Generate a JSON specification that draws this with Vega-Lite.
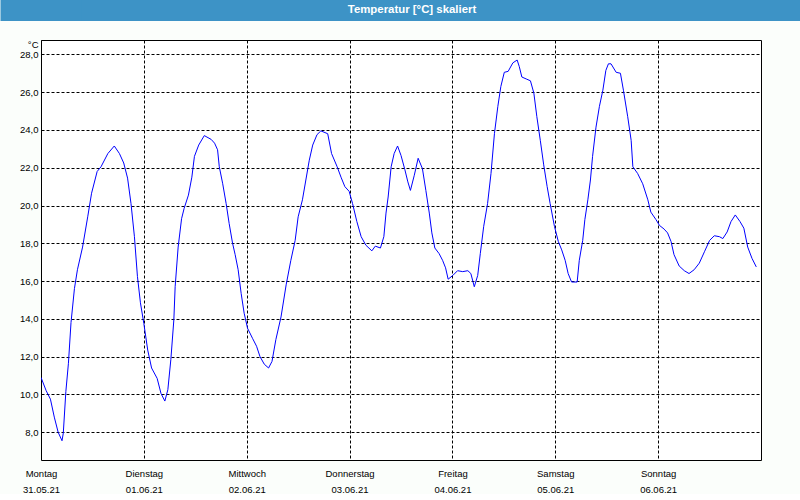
{
  "$schema": "https://vega.github.io/schema/vega-lite/v6.json",
  "background": "#FBFEFB",
  "padding": 0,
  "spacing": 17,
  "columns": 1,
  "config": {
    "font": "Liberation Sans",
    "view": {"stroke": "#000000", "strokeWidth": 1, "fill": "#FFFFFF"}
  },
  "concat": [
    {
      "width": 760,
      "height": 21,
      "view": {"fill": "#3D93C6", "stroke": null},
      "data": {"values": [{"label": "Temperatur [°C] skaliert"}]},
      "mark": {"type": "text", "color": "#FFFFFF", "fontWeight": "bold", "fontSize": 11.4, "font": "Liberation Sans", "dx": -9, "dy": -1},
      "encoding": {
        "text": {"field": "label", "type": "nominal"},
        "y": {
          "field": "label",
          "type": "nominal",
          "axis": {"title": null, "labels": false, "ticks": false, "grid": false, "domain": true, "domainColor": "#3D93C6", "domainWidth": 81, "domainOpacity": 1, "translate": 0}
        }
      }
    },
    {
      "width": 720,
      "height": 420,
      "data": {"values": [
        {"t":"2021-05-31T00:00","v":10.9},{"t":"2021-05-31T01:12","v":10.2},{"t":"2021-05-31T02:12","v":9.75},{"t":"2021-05-31T03:06","v":8.8},{"t":"2021-05-31T04:00","v":8.0},{"t":"2021-05-31T04:54","v":7.55},{"t":"2021-05-31T05:12","v":7.95},{"t":"2021-05-31T05:48","v":10.15},{"t":"2021-05-31T06:24","v":11.65},{"t":"2021-05-31T07:00","v":13.8},{"t":"2021-05-31T07:48","v":15.6},{"t":"2021-05-31T08:30","v":16.6},{"t":"2021-05-31T09:42","v":17.8},{"t":"2021-05-31T10:54","v":19.4},{"t":"2021-05-31T11:48","v":20.65},{"t":"2021-05-31T13:06","v":21.8},{"t":"2021-05-31T14:00","v":22.05},{"t":"2021-05-31T15:36","v":22.75},{"t":"2021-05-31T17:06","v":23.15},{"t":"2021-05-31T18:18","v":22.75},{"t":"2021-05-31T19:18","v":22.25},{"t":"2021-05-31T20:12","v":21.45},{"t":"2021-05-31T21:00","v":20.1},{"t":"2021-05-31T21:48","v":18.35},{"t":"2021-05-31T22:30","v":16.25},{"t":"2021-05-31T23:12","v":14.85},
        {"t":"2021-06-01T00:00","v":13.75},{"t":"2021-06-01T00:54","v":12.35},{"t":"2021-06-01T01:48","v":11.4},{"t":"2021-06-01T03:06","v":10.85},{"t":"2021-06-01T04:00","v":10.05},{"t":"2021-06-01T04:54","v":9.65},{"t":"2021-06-01T05:36","v":10.25},{"t":"2021-06-01T06:18","v":11.85},{"t":"2021-06-01T07:00","v":13.95},{"t":"2021-06-01T07:18","v":15.7},{"t":"2021-06-01T08:00","v":17.8},{"t":"2021-06-01T08:48","v":19.3},{"t":"2021-06-01T09:24","v":19.85},{"t":"2021-06-01T10:24","v":20.55},{"t":"2021-06-01T11:12","v":21.5},{"t":"2021-06-01T11:48","v":22.6},{"t":"2021-06-01T12:48","v":23.2},{"t":"2021-06-01T14:06","v":23.7},{"t":"2021-06-01T15:42","v":23.5},{"t":"2021-06-01T16:30","v":23.3},{"t":"2021-06-01T17:12","v":22.95},{"t":"2021-06-01T17:36","v":22.05},{"t":"2021-06-01T18:24","v":21.15},{"t":"2021-06-01T19:12","v":20.1},{"t":"2021-06-01T19:54","v":19.05},{"t":"2021-06-01T20:42","v":18.0},{"t":"2021-06-01T21:18","v":17.4},{"t":"2021-06-01T22:00","v":16.6},{"t":"2021-06-01T22:42","v":15.35},{"t":"2021-06-01T23:24","v":14.3},
        {"t":"2021-06-02T00:12","v":13.5},{"t":"2021-06-02T01:24","v":12.95},{"t":"2021-06-02T02:18","v":12.55},{"t":"2021-06-02T03:06","v":12.0},{"t":"2021-06-02T04:06","v":11.6},{"t":"2021-06-02T05:06","v":11.4},{"t":"2021-06-02T05:54","v":11.75},{"t":"2021-06-02T06:48","v":12.9},{"t":"2021-06-02T08:00","v":14.1},{"t":"2021-06-02T09:12","v":15.8},{"t":"2021-06-02T10:18","v":17.1},{"t":"2021-06-02T11:18","v":18.15},{"t":"2021-06-02T12:00","v":19.4},{"t":"2021-06-02T13:00","v":20.3},{"t":"2021-06-02T13:48","v":21.35},{"t":"2021-06-02T14:36","v":22.4},{"t":"2021-06-02T15:24","v":23.2},{"t":"2021-06-02T16:24","v":23.75},{"t":"2021-06-02T17:18","v":23.95},{"t":"2021-06-02T18:54","v":23.8},{"t":"2021-06-02T19:48","v":22.75},{"t":"2021-06-02T21:06","v":22.05},{"t":"2021-06-02T22:00","v":21.5},{"t":"2021-06-02T22:54","v":21.0},{"t":"2021-06-02T23:54","v":20.75},
        {"t":"2021-06-03T00:42","v":20.1},{"t":"2021-06-03T01:42","v":19.15},{"t":"2021-06-03T02:42","v":18.35},{"t":"2021-06-03T03:48","v":17.9},{"t":"2021-06-03T05:12","v":17.6},{"t":"2021-06-03T06:00","v":17.85},{"t":"2021-06-03T07:12","v":17.75},{"t":"2021-06-03T08:00","v":18.35},{"t":"2021-06-03T08:30","v":19.6},{"t":"2021-06-03T09:00","v":20.45},{"t":"2021-06-03T09:42","v":22.05},{"t":"2021-06-03T10:24","v":22.75},{"t":"2021-06-03T11:12","v":23.15},{"t":"2021-06-03T12:00","v":22.65},{"t":"2021-06-03T12:54","v":21.9},{"t":"2021-06-03T13:36","v":21.25},{"t":"2021-06-03T14:12","v":20.8},{"t":"2021-06-03T15:06","v":21.6},{"t":"2021-06-03T16:00","v":22.5},{"t":"2021-06-03T17:00","v":21.95},{"t":"2021-06-03T17:48","v":20.8},{"t":"2021-06-03T18:36","v":19.6},{"t":"2021-06-03T19:12","v":18.55},{"t":"2021-06-03T19:54","v":17.75},{"t":"2021-06-03T20:54","v":17.45},{"t":"2021-06-03T21:42","v":17.1},{"t":"2021-06-03T22:24","v":16.7},{"t":"2021-06-03T23:00","v":16.1},
        {"t":"2021-06-04T00:06","v":16.3},{"t":"2021-06-04T01:12","v":16.55},{"t":"2021-06-04T02:24","v":16.5},{"t":"2021-06-04T03:36","v":16.55},{"t":"2021-06-04T04:18","v":16.4},{"t":"2021-06-04T05:06","v":15.7},{"t":"2021-06-04T05:54","v":16.3},{"t":"2021-06-04T06:30","v":17.45},{"t":"2021-06-04T07:18","v":18.9},{"t":"2021-06-04T08:12","v":20.1},{"t":"2021-06-04T09:00","v":21.7},{"t":"2021-06-04T09:48","v":23.8},{"t":"2021-06-04T10:36","v":25.25},{"t":"2021-06-04T11:18","v":26.3},{"t":"2021-06-04T12:06","v":27.05},{"t":"2021-06-04T13:00","v":27.1},{"t":"2021-06-04T14:06","v":27.55},{"t":"2021-06-04T15:06","v":27.7},{"t":"2021-06-04T15:36","v":27.35},{"t":"2021-06-04T16:12","v":26.8},{"t":"2021-06-04T17:12","v":26.7},{"t":"2021-06-04T18:12","v":26.6},{"t":"2021-06-04T19:00","v":25.95},{"t":"2021-06-04T19:42","v":24.7},{"t":"2021-06-04T20:30","v":23.45},{"t":"2021-06-04T21:18","v":22.15},{"t":"2021-06-04T22:06","v":21.0},{"t":"2021-06-04T22:48","v":20.1},{"t":"2021-06-04T23:48","v":18.9},
        {"t":"2021-06-05T00:42","v":18.1},{"t":"2021-06-05T01:30","v":17.65},{"t":"2021-06-05T02:18","v":17.1},{"t":"2021-06-05T03:00","v":16.4},{"t":"2021-06-05T03:48","v":15.95},{"t":"2021-06-05T05:06","v":15.95},{"t":"2021-06-05T05:36","v":17.1},{"t":"2021-06-05T06:24","v":18.15},{"t":"2021-06-05T06:54","v":19.25},{"t":"2021-06-05T07:36","v":20.3},{"t":"2021-06-05T08:12","v":21.35},{"t":"2021-06-05T08:42","v":22.6},{"t":"2021-06-05T09:30","v":24.15},{"t":"2021-06-05T10:18","v":25.25},{"t":"2021-06-05T11:06","v":26.1},{"t":"2021-06-05T11:48","v":27.15},{"t":"2021-06-05T12:24","v":27.5},{"t":"2021-06-05T13:00","v":27.5},{"t":"2021-06-05T14:12","v":27.05},{"t":"2021-06-05T15:12","v":27.0},{"t":"2021-06-05T15:54","v":26.1},{"t":"2021-06-05T16:54","v":24.7},{"t":"2021-06-05T17:42","v":23.45},{"t":"2021-06-05T18:06","v":22.05},{"t":"2021-06-05T19:12","v":21.7},{"t":"2021-06-05T20:24","v":21.15},{"t":"2021-06-05T21:36","v":20.3},{"t":"2021-06-05T22:18","v":19.65},{"t":"2021-06-05T23:30","v":19.25},
        {"t":"2021-06-06T00:18","v":18.95},{"t":"2021-06-06T01:24","v":18.75},{"t":"2021-06-06T02:12","v":18.55},{"t":"2021-06-06T03:00","v":18.1},{"t":"2021-06-06T03:42","v":17.4},{"t":"2021-06-06T04:54","v":16.8},{"t":"2021-06-06T06:06","v":16.55},{"t":"2021-06-06T07:12","v":16.4},{"t":"2021-06-06T08:24","v":16.6},{"t":"2021-06-06T09:36","v":16.95},{"t":"2021-06-06T10:48","v":17.55},{"t":"2021-06-06T12:00","v":18.15},{"t":"2021-06-06T13:06","v":18.4},{"t":"2021-06-06T14:18","v":18.35},{"t":"2021-06-06T15:06","v":18.25},{"t":"2021-06-06T16:06","v":18.6},{"t":"2021-06-06T17:00","v":19.15},{"t":"2021-06-06T18:00","v":19.5},{"t":"2021-06-06T19:06","v":19.15},{"t":"2021-06-06T20:00","v":18.8},{"t":"2021-06-06T20:54","v":17.8},{"t":"2021-06-06T21:54","v":17.2},{"t":"2021-06-06T22:54","v":16.75}
      ]},
      "mark": {"type": "line", "color": "#0000FF", "strokeWidth": 1, "clip": true},
      "encoding": {
        "x": {
          "field": "t",
          "type": "temporal",
          "scale": {"domain": [{"year": 2021, "month": 5, "date": 31}, {"year": 2021, "month": 6, "date": 7}], "nice": false},
          "axis": {
            "values": [
              {"year": 2021, "month": 5, "date": 31},
              {"year": 2021, "month": 6, "date": 1},
              {"year": 2021, "month": 6, "date": 2},
              {"year": 2021, "month": 6, "date": 3},
              {"year": 2021, "month": 6, "date": 4},
              {"year": 2021, "month": 6, "date": 5},
              {"year": 2021, "month": 6, "date": 6}
            ],
            "labelExpr": "[['Sonntag','Montag','Dienstag','Mittwoch','Donnerstag','Freitag','Samstag'][day(datum.value)], timeFormat(datum.value, '%d.%m.%y')]",
            "title": null,
            "domain": false,
            "ticks": false,
            "grid": true,
            "gridColor": "#000000",
            "gridDash": [3, 2],
            "gridOpacity": 1,
            "gridWidth": 1,
            "labelFont": "Liberation Sans",
            "labelFontSize": 9.5,
            "labelColor": "#000000",
            "labelPadding": 8,
            "labelLineHeight": 16,
            "labelBaseline": "top",
            "labelDx": -3,
            "labelFlush": false,
            "labelOverlap": false
          }
        },
        "y": {
          "field": "v",
          "type": "quantitative",
          "scale": {"domain": [6.53, 28.76], "nice": false, "zero": false},
          "axis": {
            "values": [8, 10, 12, 14, 16, 18, 20, 22, 24, 26, 28],
            "labelExpr": "replace(format(datum.value, '.1f'), '.', ',')",
            "title": "°C",
            "titleAngle": 0,
            "titleAlign": "right",
            "titleBaseline": "alphabetic",
            "titleX": -3,
            "titleY": 7,
            "titleFont": "Liberation Sans",
            "titleFontSize": 9.5,
            "titleFontWeight": "normal",
            "titleColor": "#000000",
            "domain": false,
            "ticks": false,
            "grid": true,
            "gridColor": "#000000",
            "gridDash": [3, 2],
            "gridOpacity": 1,
            "gridWidth": 1,
            "labelFont": "Liberation Sans",
            "labelFontSize": 9.5,
            "labelColor": "#000000",
            "labelPadding": 3,
            "labelFlush": false,
            "labelOverlap": false,
            "minExtent": 40,
            "maxExtent": 40
          }
        }
      }
    }
  ]
}
